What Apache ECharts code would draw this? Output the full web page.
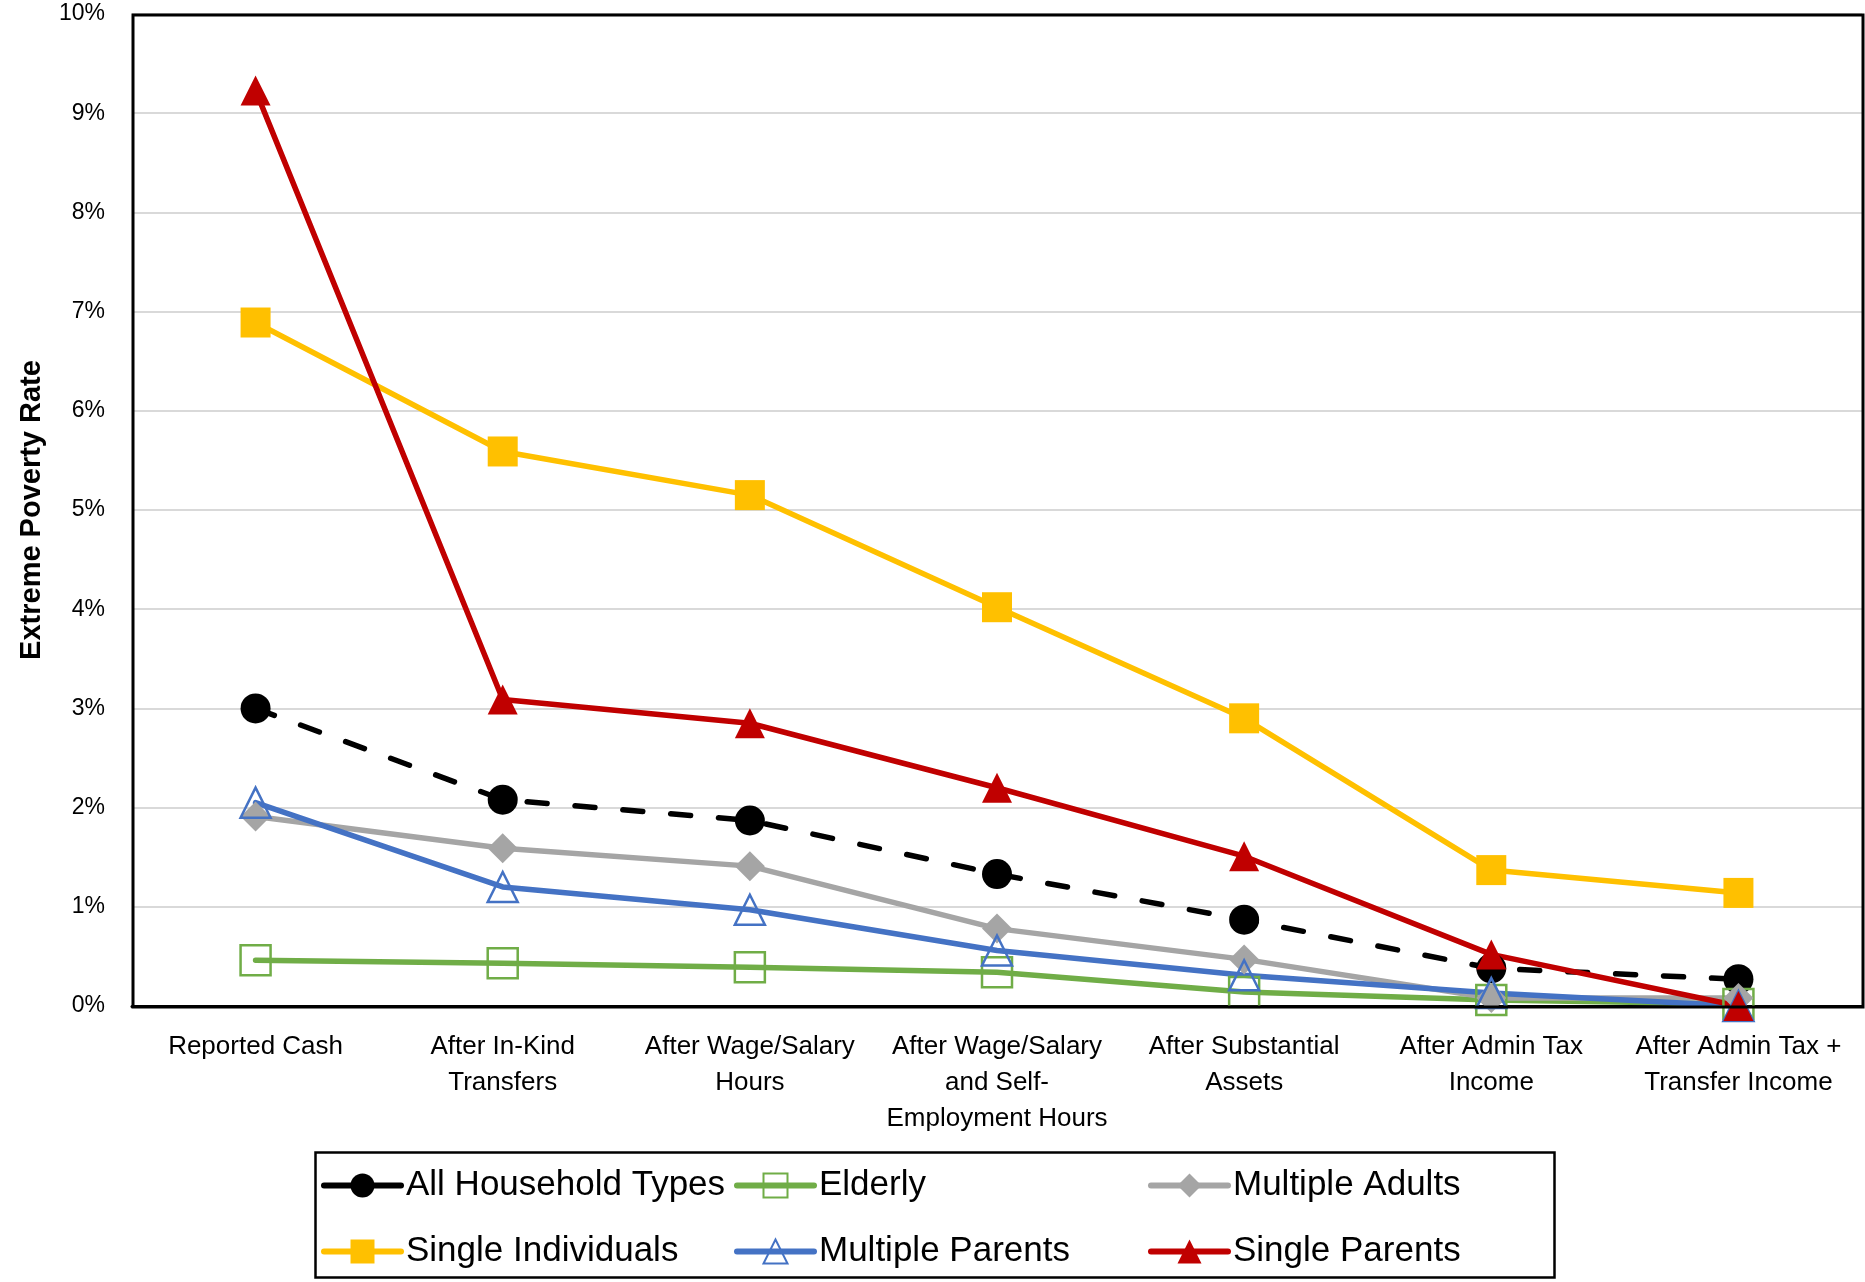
<!DOCTYPE html>
<html>
<head>
<meta charset="utf-8">
<script src="https://cdn.jsdelivr.net/npm/echarts@6/dist/echarts.min.js"></script>
<style>
html,body{margin:0;padding:0;background:#fff;}
#chart{width:1865px;height:1282px;}
</style>
</head>
<body>
<div id="chart"></div>
<script>
const categories = [
  'Reported Cash',
  'After In-Kind\nTransfers',
  'After Wage/Salary\nHours',
  'After Wage/Salary\nand Self-\nEmployment Hours',
  'After Substantial\nAssets',
  'After Admin Tax\nIncome',
  'After Admin Tax +\nTransfer Income'
];
const yTicks = [0, 1, 2, 3, 4, 5, 6, 7, 8, 9, 10];
const allHousehold = [3.00, 2.08, 1.87, 1.33, 0.87, 0.38, 0.27];
const elderly = [0.46, 0.43, 0.39, 0.34, 0.14, 0.06, 0.02];
const multipleAdults = [1.91, 1.59, 1.41, 0.78, 0.47, 0.08, 0.08];
const singleIndividuals = [6.89, 5.59, 5.15, 4.02, 2.90, 1.37, 1.14];
const multipleParents = [2.05, 1.20, 0.97, 0.56, 0.31, 0.13, 0.00];
const singleParents = [9.23, 3.09, 2.85, 2.20, 1.51, 0.52, 0.00];

const FONT = 'Liberation Sans';
const chart = echarts.init(document.getElementById('chart'));

function mk(name, data, color, symbol, hollow, dashed) {
  return {
    name: name,
    type: 'line',
    data: data,
    symbol: symbol,
    symbolSize: 30,
    showSymbol: true,
    lineStyle: {color: color, width: 5.5, type: dashed ? [20, 28] : 'solid', cap: 'round', join: 'round'},
    itemStyle: hollow
      ? {color: 'rgba(255,255,255,0)', borderColor: color, borderWidth: 2.5}
      : {color: color, borderWidth: 0},
    emphasis: {disabled: true},
    animation: false
  };
}

const legendBase = {
  orient: 'vertical',
  itemWidth: 77,
  itemHeight: 30,
  itemGap: 31,
  textStyle: {fontFamily: FONT, fontSize: 35, color: '#000'},
  lineStyle: {width: 6, type: 'solid', cap: 'round'},
  padding: 0,
  selectedMode: false
};

chart.setOption({
  backgroundColor: '#fff',
  animation: false,
  grid: {
    left: 132, right: 3, top: 14, bottom: 276,
    show: false
  },
  xAxis: {
    type: 'category',
    data: categories,
    boundaryGap: true,
    axisLine: {show: true, lineStyle: {color: '#000', width: 3}},
    axisTick: {show: false},
    axisLabel: {interval: 0, fontFamily: FONT, fontSize: 26, color: '#000', lineHeight: 36, margin: 23}
  },
  yAxis: {
    type: 'value',
    min: yTicks[0],
    max: yTicks[yTicks.length - 1],
    interval: 1,
    name: 'Extreme Poverty Rate',
    nameLocation: 'middle',
    nameRotate: 90,
    nameGap: 86,
    nameTextStyle: {fontFamily: FONT, fontSize: 29, fontWeight: 'bold', color: '#000'},
    axisLine: {show: false},
    axisTick: {show: false},
    axisLabel: {formatter: '{value}%', fontFamily: FONT, fontSize: 23, color: '#000', margin: 27},
    splitLine: {show: true, lineStyle: {color: '#d9d9d9', width: 2}}
  },
  legend: [
    Object.assign({}, legendBase, {left: 321, top: 1168, data: ['All Household Types', 'Single Individuals']}),
    Object.assign({}, legendBase, {left: 734, top: 1168, data: ['Elderly', 'Multiple Parents']}),
    Object.assign({}, legendBase, {left: 1148, top: 1168, data: ['Multiple Adults', 'Single Parents']})
  ],
  graphic: [{
    type: 'rect',
    left: 313, top: 1150,
    shape: {width: 1239, height: 125},
    style: {fill: 'none', stroke: '#000', lineWidth: 2.5},
    silent: true
  }, {
    type: 'rect',
    left: 130.5, top: 12.5, z: 100,
    shape: {width: 1730, height: 992},
    style: {fill: 'none', stroke: '#000', lineWidth: 3},
    silent: true
  }],
  series: [
    mk('All Household Types', allHousehold, '#000000', 'circle', false, true),
    mk('Elderly', elderly, '#70AD47', 'rect', true, false),
    mk('Multiple Adults', multipleAdults, '#A5A5A5', 'diamond', false, false),
    mk('Single Individuals', singleIndividuals, '#FFC000', 'rect', false, false),
    mk('Multiple Parents', multipleParents, '#4472C4', 'triangle', true, false),
    mk('Single Parents', singleParents, '#C00000', 'triangle', false, false)
  ]
});
</script>
</body>
</html>
